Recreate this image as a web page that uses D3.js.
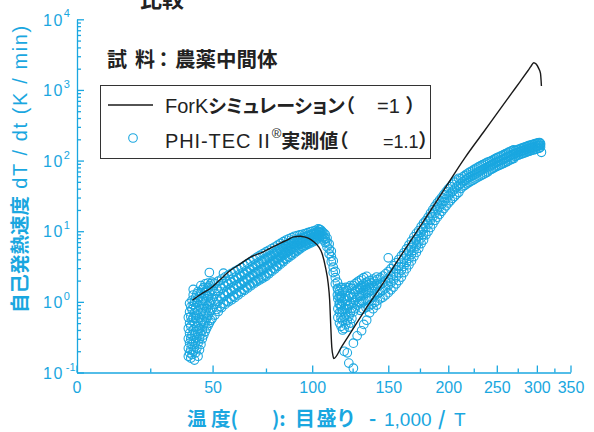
<!DOCTYPE html>
<html><head><meta charset="utf-8">
<script src="https://cdn.jsdelivr.net/npm/d3@7"></script>
<style>
body{margin:0;background:#fff}
svg{display:block}
.latin{font-family:"Liberation Sans",Arial,sans-serif}
.cjk{font-family:"Noto Sans CJK JP",sans-serif;font-weight:bold;font-feature-settings:"palt"}
.cjkw{font-family:"Noto Sans CJK JP",sans-serif;font-weight:bold}
</style></head><body><svg id="chart" width="594" height="432"></svg>
<script>
// Temperature axis labels (°C) shown on a -1000/T scale
const tempTicks = [0, 50, 100, 150, 200, 250, 300, 350];
const tempMinorTicks = [25, 75, 125, 175, 225, 275, 325];
const rateDecades = [-1, 0, 1, 2, 3, 4];

// ForK simulation (φ = 1): temperature °C, self-heat rate K/min
const forkTemp = [41.5, 45, 49.1, 53, 58, 62.5, 67.3, 73.7, 78, 82.5, 86, 89.6, 93.3, 95.5, 98, 100.9, 103.8, 105.8, 107.8, 109.5, 110.4, 111.1, 111.7, 112.6, 112.9, 118, 123.5, 133, 144, 160, 177, 195, 216.5, 235, 254, 268, 278, 288, 292, 295.7, 299, 302.5, 305, 306.3];
const forkRate = [1.06, 1.28, 1.56, 2.02, 2.8, 3.45, 4.3, 5.1, 5.9, 6.8, 7.5, 8.3, 8.5, 8.3, 7.9, 7.08, 6.0, 4.85, 3.13, 1.82, 1.06, 0.44, 0.23, 0.166, 0.158, 0.235, 0.361, 0.748, 1.59, 4.61, 13.0, 36.4, 112, 250, 540, 916, 1315, 1871, 2153, 2430, 2330, 2020, 1720, 1135];

// PHI-TEC II measurement (φ = 1.1): [temperature °C, rates K/min at that temperature]
const phiOnset = [
  [39.8, [0.17, 0.22, 0.30, 0.42, 0.60]],
  [40.3, [0.19, 0.26, 0.36, 0.50, 0.72, 0.95]],
  [40.8, [0.16, 0.21, 0.30, 0.45, 0.62, 0.85]],
  [41.3, [0.18, 0.25, 0.34, 0.55, 0.78, 1.05]],
  [41.8, [0.20, 0.28, 0.40, 0.60, 0.90, 1.25, 1.5]],
  [42.3, [0.15, 0.23, 0.33, 0.50, 0.70, 1.0]],
  [42.8, [0.19, 0.27, 0.38, 0.58, 0.82, 1.15]],
  [43.3, [0.22, 0.31, 0.45, 0.65, 0.95, 1.3]],
  [43.8, [0.17, 0.26, 0.36, 0.52, 0.75, 1.1, 1.4]],
  [44.4, [0.21, 0.30, 0.42, 0.60, 0.88, 1.2]],
  [45.0, [0.25, 0.35, 0.50, 0.70, 1.0, 1.35, 1.7]],
  [45.6, [0.30, 0.40, 0.56, 0.80, 1.1, 1.5]],
  [46.2, [0.34, 0.47, 0.65, 0.90, 1.25, 1.6]],
  [46.8, [0.38, 0.52, 0.72, 1.0, 1.35, 1.8]],
  [47.4, [0.42, 0.58, 0.80, 1.1, 1.45]],
  [48.0, [0.46, 0.64, 0.88, 1.2, 1.6, 1.85]],
  [48.6, [0.50, 0.70, 0.95, 1.3, 1.7, 2.6]],
  [49.2, [0.55, 0.76, 1.0, 1.4, 1.8]],
  [49.8, [0.58, 0.80, 1.1, 1.5, 1.9]]
];
const phiBand = [
  [51.0, [0.65, 0.92, 1.30, 1.83]], [51.8, [0.78, 1.10, 1.55]],
  [52.5, [0.73, 1.02, 1.41, 1.96]], [53.3, [0.86, 1.20, 1.68]],
  [54.0, [0.83, 1.13, 1.54, 2.10]], [54.8, [0.95, 1.30, 1.80, 2.55]],
  [55.5, [0.92, 1.24, 1.67, 2.24]], [56.3, [1.03, 1.40, 1.92]],
  [57.0, [1.00, 1.34, 1.79, 2.39]], [57.8, [1.12, 1.50, 2.05]],
  [58.5, [1.07, 1.43, 1.90, 2.54]], [59.3, [1.20, 1.60, 2.17]],
  [60.0, [1.15, 1.53, 2.03, 2.70]], [60.8, [1.30, 1.72, 2.30]],
  [61.5, [1.25, 1.64, 2.17, 2.86]], [62.3, [1.40, 1.83, 2.45]],
  [63.0, [1.35, 1.77, 2.32, 3.05]], [63.8, [1.50, 1.97, 2.60]],
  [64.5, [1.46, 1.90, 2.48, 3.24]], [65.3, [1.62, 2.12, 2.78]],
  [66.0, [1.57, 2.05, 2.67, 3.47]], [66.8, [1.74, 2.27, 2.98]],
  [67.5, [1.69, 2.20, 2.86, 3.72]], [68.3, [1.86, 2.43, 3.20]],
  [69.0, [1.81, 2.36, 3.07, 4.00]], [69.8, [1.99, 2.60, 3.42]],
  [70.5, [1.94, 2.52, 3.29, 4.29]], [71.3, [2.12, 2.76, 3.62]],
  [72.0, [2.05, 2.67, 3.48, 4.54]], [72.8, [2.24, 2.92, 3.83]],
  [73.5, [2.17, 2.83, 3.70, 4.82]], [74.3, [2.38, 3.10, 4.05]],
  [75.0, [2.30, 3.00, 3.92, 5.10]], [75.8, [2.56, 3.30, 4.30]],
  [76.5, [2.49, 3.22, 4.17, 5.38]], [77.3, [2.78, 3.55, 4.55]],
  [78.0, [2.70, 3.46, 4.43, 5.68]], [78.8, [3.00, 3.82, 4.85]],
  [79.5, [2.92, 3.72, 4.71, 5.98]], [80.3, [3.24, 4.10, 5.15]],
  [81.0, [3.16, 3.98, 5.02, 6.34]], [81.8, [3.50, 4.40, 5.50]],
  [82.5, [3.42, 4.29, 5.36, 6.71]], [83.3, [3.80, 4.72, 5.88]],
  [84.0, [3.70, 4.60, 5.71, 7.11]], [84.8, [4.10, 5.05, 6.25]],
  [85.5, [3.99, 4.92, 6.08, 7.50]], [86.3, [4.40, 5.38, 6.60]],
  [87.0, [4.28, 5.22, 6.40, 7.82]], [87.8, [4.70, 5.70, 6.92]],
  [88.5, [4.57, 5.54, 6.71, 8.15]], [89.3, [5.05, 6.05, 7.25]],
  [90.0, [4.90, 5.89, 7.06, 8.49]], [90.8, [5.40, 6.38, 7.55]],
  [91.5, [5.24, 6.19, 7.33, 8.67]], [92.3, [5.75, 6.70, 7.80]],
  [93.0, [5.58, 6.52, 7.60, 8.85]], [93.8, [6.10, 7.02, 8.07]],
  [94.5, [5.97, 6.85, 7.87, 9.04]], [95.3, [6.40, 7.30, 8.32]],
  [96.0, [6.27, 7.14, 8.13, 9.27]], [96.8, [6.68, 7.57, 8.58]],
  [97.5, [6.53, 7.41, 8.40, 9.53]], [98.3, [6.96, 7.85, 8.86]],
  [99.0, [6.81, 7.69, 8.69, 9.82]], [99.8, [7.25, 8.12, 9.12]],
  [100.5, [7.10, 7.98, 8.95, 10.07]], [101.3, [7.55, 8.40, 9.38]],
  [102.0, [7.40, 8.24, 9.20, 10.26]], [102.8, [7.80, 8.65, 9.60]]
];
const phiDrop = [
  [103.5, [10.8, 9.9, 8.9]], [104.3, [10.6, 9.6, 8.7]],
  [105.0, [10.4, 9.4, 8.5]], [105.8, [9.9, 9.0, 8.1]],
  [106.8, [9.4, 8.4, 7.5]], [107.7, [9.0, 7.9, 6.9]],
  [108.8, [8.0, 7.0, 6.0]], [110.1, [6.6, 5.6, 4.8]],
  [111.4, [5.2, 4.4, 3.7]], [112.6, [3.8, 3.1, 2.6]],
  [113.9, [2.7, 2.2, 1.8]], [115.2, [1.9, 1.55, 1.25]],
  [116.4, [1.4, 1.15, 0.92]], [117.6, [1.1, 0.9, 0.72]]
];
const phiTrough = [
  [115.5, [1.5, 1.1, 0.8, 0.6]], [116.5, [1.3, 0.95, 0.7, 0.5]],
  [117.5, [1.6, 1.2, 0.85, 0.6, 0.45]], [118.5, [1.4, 1.0, 0.75, 0.55, 0.4]],
  [119.5, [1.5, 1.1, 0.8, 0.6, 0.42, 0.2]], [120.5, [1.6, 1.2, 0.9, 0.65, 0.48]],
  [121.5, [1.45, 1.05, 0.78, 0.55, 0.19]], [122.5, [1.6, 1.2, 0.88, 0.62, 0.44, 0.136]],
  [123.5, [1.7, 1.3, 0.95, 0.7, 0.5]], [124.5, [1.55, 1.15, 0.82, 0.58]],
  [125.5, [1.7, 1.3, 0.98, 0.72, 0.26, 0.115]], [126.5, [1.8, 1.4, 1.05, 0.8]],
  [128.0, [1.9, 1.5, 1.15, 0.9, 0.33]], [129.5, [2.0, 1.6, 1.25, 1.0]],
  [131.0, [2.1, 1.7, 1.35, 1.05, 0.39]], [132.5, [2.2, 1.8, 1.45, 0.48]],
  [134.5, [2.3, 1.9, 1.5, 0.55]], [136.5, [2.0, 1.6, 0.7]],
  [139.0, [2.1, 1.7, 0.8]], [141.5, [2.25, 1.8, 0.9]], [150.0, [4.2]]
];
const phiRise = [
  [130, [0.76, 0.95, 1.20, 1.51]], [132, [0.79, 1.00, 1.26, 1.58]],
  [134, [0.83, 1.05, 1.32, 1.66]], [136, [0.87, 1.10, 1.38, 1.74]],
  [138, [0.93, 1.16, 1.46, 1.84]], [140, [0.98, 1.23, 1.55, 1.95]],
  [142, [1.04, 1.31, 1.65, 2.07]], [144, [1.10, 1.38, 1.74, 2.19]],
  [146, [1.16, 1.46, 1.84, 2.32]], [148, [1.25, 1.57, 1.98, 2.49]],
  [150, [1.35, 1.70, 2.14, 2.69]], [152, [1.48, 1.86, 2.34, 2.95]],
  [154, [1.62, 2.04, 2.57, 3.24]], [156, [1.80, 2.26, 2.85, 3.58]],
  [158, [2.00, 2.51, 3.16, 3.98]], [160, [2.24, 2.82, 3.55, 4.47]],
  [162, [2.60, 3.20, 4.03, 4.95]], [164, [2.95, 3.63, 4.57, 5.62]],
  [166, [3.35, 4.12, 5.19, 6.38]], [168, [3.80, 4.68, 5.89, 7.24]],
  [170, [4.37, 5.37, 6.76, 8.32]], [172, [5.01, 6.17, 7.59, 9.33]],
  [174, [5.75, 7.08, 8.51, 10.2]], [176, [6.68, 8.04, 9.66, 11.6]],
  [178, [7.5, 9.0, 10.8, 13.0]], [180, [8.9, 11.2, 14.1]],
  [182, [10.0, 12.6, 15.8]], [184, [11.3, 14.3, 18.0]],
  [186, [12.7, 16.0, 20.2]], [188, [14.3, 18.0, 22.6]],
  [190, [15.8, 20.0, 25.1]], [192, [17.4, 21.9, 27.5]],
  [194, [19.1, 24.0, 30.2]], [196, [20.9, 26.3, 33.1]],
  [198, [22.9, 28.8, 36.3]], [200, [25.1, 31.6, 39.8]],
  [202, [26.9, 33.9, 42.7]], [204, [29.2, 36.7, 46.2]],
  [206, [31.3, 39.4, 49.5]], [208, [33.5, 42.2, 53.1]],
  [210, [35.5, 44.7, 56.2]], [212, [40.3, 47.3, 55.6]],
  [214, [42.7, 50.1, 58.9]], [216, [44.7, 52.5, 61.7]],
  [218, [46.8, 55.0, 64.6]], [220, [49.0, 57.5, 67.6]],
  [222, [50.8, 59.7, 70.1]], [224, [52.7, 61.9, 72.8]],
  [226, [54.7, 64.3, 75.5]], [228, [56.8, 66.7, 78.3]],
  [230, [58.9, 69.2, 81.3]], [232, [60.8, 71.4, 83.9]],
  [234, [62.8, 73.8, 86.7]], [236, [64.8, 76.2, 89.5]],
  [238, [67.0, 78.7, 92.4]], [240, [69.2, 81.3, 95.5]],
  [242, [73.1, 83.9, 96.4]], [244, [75.5, 86.7, 99.5]],
  [246, [78.0, 89.5, 102.8]], [248, [80.5, 92.5, 106.2]],
  [250, [83.2, 95.5, 109.6]], [252, [85.1, 97.7, 112.2]],
  [254, [87.1, 100, 114.8]], [256, [89.3, 102.6, 117.8]],
  [258, [91.8, 105.4, 121.1]], [260, [94.4, 108.4, 124.5]],
  [262, [97.1, 111.4, 128.0]], [264, [99.8, 114.6, 131.6]],
  [266, [102.6, 117.8, 135.3]], [268, [105.0, 120.5, 138.4]],
  [270, [107.2, 123.0, 141.3]], [272, [114.9, 125.9, 138.0]],
  [274, [117.5, 128.8, 141.2]], [276, [120.0, 131.5, 144.1]],
  [278, [122.3, 134.0, 146.9]], [280, [124.5, 136.5, 149.6]],
  [282, [126.8, 139.0, 152.3]], [284, [129.2, 141.6, 155.2]],
  [286, [131.6, 144.2, 158.0]], [288, [134.0, 146.9, 161.0]],
  [290, [136.5, 149.6, 164.0]], [292, [138.4, 151.7, 166.3]],
  [294, [140.3, 153.8, 168.6]], [296, [142.3, 156.0, 171.0]],
  [298, [144.3, 158.2, 173.4]], [300, [146.3, 160.3, 175.7]],
  [302, [148.6, 162.9, 178.5]], [303.5, [150.0, 164.4, 180.2]],
  [305, [155, 166, 175]], [306.3, [131]]
];

const CYAN = "#1aa7e0";
const svg = d3.select("#chart");

// -1000/T with T in kelvin
const inv = t => -1000 / (t + 273.15);
const x = d3.scaleLinear().domain([inv(0), inv(350)]).range([76.5, 570.5]);
const y = d3.scaleLog().domain([0.1, 1e4]).range([372.5, 19.3]);
const px = t => x(inv(t));

// ---- axes ----
const xAxis = svg.append("g").attr("transform", "translate(0,372.5)")
  .call(d3.axisBottom(x).tickValues(tempTicks.map(inv)).tickSizeInner(-7).tickSizeOuter(0).tickPadding(9)
    .tickFormat(v => String(Math.round(-1000 / v - 273.15))));
svg.append("g").attr("transform", "translate(0,372.5)")
  .call(d3.axisBottom(x).tickValues(tempMinorTicks.map(inv)).tickSizeInner(-4).tickSizeOuter(0).tickFormat(""))
  .call(g => g.select(".domain").remove());

const minorRates = [];
rateDecades.slice(0, -1).forEach(e => { for (let k = 2; k <= 9; k++) minorRates.push(k * Math.pow(10, e)); });
const yAxis = svg.append("g").attr("transform", "translate(77,0)")
  .call(d3.axisLeft(y).tickValues(rateDecades.map(e => Math.pow(10, e))).tickSizeInner(-7).tickSizeOuter(0).tickFormat(""));
svg.append("g").attr("transform", "translate(77,0)")
  .call(d3.axisLeft(y).tickValues(minorRates).tickSizeInner(-4).tickSizeOuter(0).tickFormat(""))
  .call(g => g.select(".domain").remove());

svg.selectAll(".domain, .tick line").attr("stroke", CYAN).attr("stroke-width", 1.3);
xAxis.selectAll(".tick text").attr("fill", CYAN).attr("class", "latin").attr("font-size", 16);

yAxis.selectAll(".tick").each(function (v) {
  const e = Math.round(Math.log10(v));
  const t = d3.select(this).append("text").attr("class", "latin").attr("fill", CYAN)
    .attr("x", -34).attr("dy", "0.36em").attr("font-size", 16).attr("text-anchor", "start");
  t.append("tspan").attr("letter-spacing", 1.5).text("10");
  t.append("tspan").attr("font-size", 11).attr("dy", "-0.75em").attr("dx", e < 0 ? 2 : 0).text(e < 0 ? "-1" : String(e));
});

// ---- measured points ----
const phiPoints = [];
[phiOnset, phiBand, phiDrop, phiTrough, phiRise].forEach(set =>
  set.forEach(([t, rates]) => rates.forEach(r => phiPoints.push([t, r]))));

svg.append("g").selectAll("circle").data(phiPoints).join("circle")
  .attr("cx", d => px(d[0])).attr("cy", d => y(d[1])).attr("r", 4.3)
  .attr("fill", "none").attr("stroke", CYAN).attr("stroke-width", 1.1);

// ---- simulation line ----
const forkLine = d3.line().x(d => px(d[0])).y(d => y(d[1])).curve(d3.curveMonotoneX);
svg.append("path").datum(forkTemp.map((t, i) => [t, forkRate[i]]))
  .attr("d", forkLine).attr("fill", "none").attr("stroke", "#1a1a1a").attr("stroke-width", 1.4);

// ---- titles ----
svg.append("text").attr("class", "cjk").attr("x", 140).attr("y", 7).attr("font-size", 22).attr("fill", "#222").text("比較");
const sub = svg.append("g").attr("fill", "#222").attr("font-size", 20);
sub.append("text").attr("class", "cjkw").attr("x", 107).attr("y", 67).text("試");
sub.append("text").attr("class", "cjkw").attr("x", 135).attr("y", 67).text("料");
sub.append("text").attr("class", "cjkw").attr("x", 153.5).attr("y", 67).text("：");
sub.append("text").attr("class", "cjkw").attr("x", 175).attr("y", 67).attr("font-size", 20.5).text("農薬中間体");

// ---- legend ----
const lg = svg.append("g");
lg.append("rect").attr("x", 100.5).attr("y", 85.5).attr("width", 330).attr("height", 73)
  .attr("fill", "#fff").attr("stroke", "#333").attr("stroke-width", 1);
lg.append("line").attr("x1", 108).attr("x2", 153).attr("y1", 105).attr("y2", 105).attr("stroke", "#1a1a1a").attr("stroke-width", 1.4);
const l1 = lg.append("text").attr("x", 165).attr("y", 113).attr("fill", "#222");
l1.append("tspan").attr("class", "latin").attr("font-size", 20).text("ForK");
l1.append("tspan").attr("class", "cjk").attr("font-size", 19).text("シミュレーション（");
lg.append("text").attr("class", "latin").attr("x", 377).attr("y", 113).attr("font-size", 20).attr("fill", "#222").text("=1");
lg.append("text").attr("class", "cjk").attr("x", 406).attr("y", 113).attr("font-size", 19).attr("fill", "#222").text("）");
lg.append("circle").attr("cx", 133).attr("cy", 138).attr("r", 4.3).attr("fill", "none").attr("stroke", CYAN).attr("stroke-width", 1.1);
const l2 = lg.append("text").attr("x", 165).attr("y", 148).attr("fill", "#222");
l2.append("tspan").attr("class", "latin").attr("font-size", 20).attr("letter-spacing", 0.9).text("PHI-TEC II");
l2.append("tspan").attr("class", "latin").attr("font-size", 13).attr("dy", -10).attr("dx", 1).text("®");
l2.append("tspan").attr("class", "cjk").attr("font-size", 19).attr("dy", 10).text("実測値（");
lg.append("text").attr("class", "latin").attr("x", 383).attr("y", 148).attr("font-size", 18).attr("fill", "#222").text("=1.1");
lg.append("text").attr("class", "cjk").attr("x", 419).attr("y", 148).attr("font-size", 19).attr("fill", "#222").text("）");

// ---- axis titles ----
const yt = svg.append("text").attr("transform", "translate(27,313) rotate(-90)").attr("fill", CYAN);
yt.append("tspan").attr("class", "cjk").attr("font-size", 19.5).text("自己発熱速度");
yt.append("tspan").attr("class", "latin").attr("font-size", 20).attr("letter-spacing", 1.6).text(" dT / dt (K / min)");

const xt = svg.append("g").attr("fill", CYAN);
xt.append("text").attr("class", "cjk").attr("x", 187).attr("y", 426).attr("font-size", 19.5).text("温 度(");
xt.append("text").attr("class", "cjk").attr("x", 272).attr("y", 426).attr("font-size", 19.5).text("):");
xt.append("text").attr("class", "cjk").attr("x", 295).attr("y", 426).attr("font-size", 20).attr("letter-spacing", 1.5).text("目盛り");
xt.append("text").attr("class", "cjk").attr("x", 369).attr("y", 426).attr("font-size", 19.5).text("-");
xt.append("text").attr("class", "latin").attr("x", 384).attr("y", 426).attr("font-size", 19).text("1,000");
xt.append("text").attr("class", "cjk").attr("x", 438).attr("y", 426).attr("font-size", 19.5).text("/");
xt.append("text").attr("class", "latin").attr("x", 454).attr("y", 426).attr("font-size", 19).text("T");
</script></body></html>
